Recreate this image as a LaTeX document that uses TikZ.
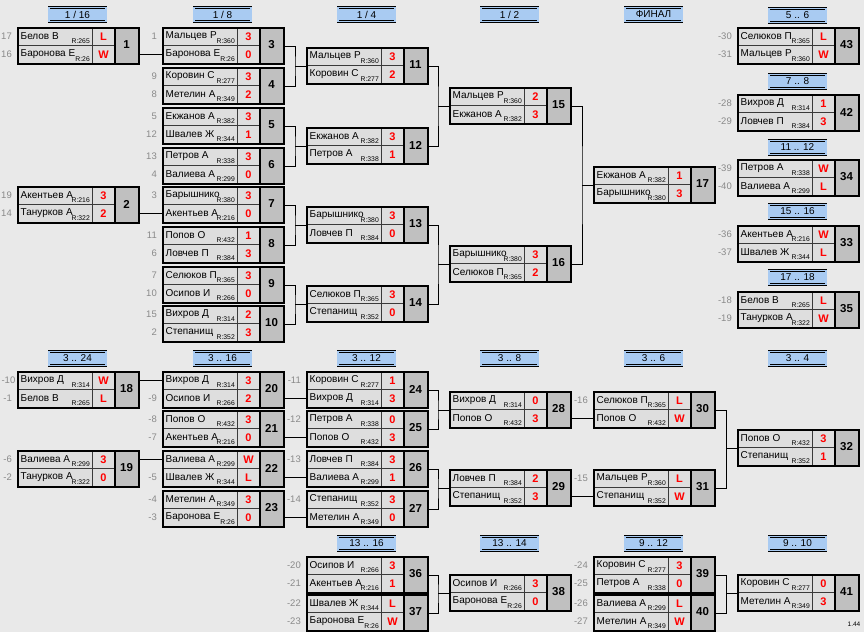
\documentclass[tikz,border=0pt]{standalone}
\usepackage{fontspec}
\setmainfont{Liberation Sans}
\usetikzlibrary{calc}
\definecolor{bgc}{HTML}{E9E9E9}
\definecolor{namefill}{HTML}{DEDEDE}
\definecolor{numfill}{HTML}{C0C0C0}
\definecolor{hdrblue}{HTML}{A9CBF2}
\definecolor{scred}{HTML}{FF0000}
\definecolor{seedgray}{HTML}{8A8A8A}
\definecolor{inlc}{HTML}{3A3A3A}
\tikzset{
 conn/.style={line width=1pt, black},
 mframe/.style={draw, line width=2pt, minimum width=121pt, minimum height=36pt, inner sep=0pt, anchor=north west},
 rowcell/.style={minimum width=98pt, minimum height=18pt, inner sep=0pt, anchor=north west},
 nm/.style={anchor=west, font=\fontsize{10}{11}\selectfont, inner sep=0pt},
 rt/.style={anchor=base east, font=\fontsize{6.8}{7}\selectfont, inner sep=0pt},
 sc/.style={font=\bfseries\fontsize{11}{12}\selectfont, text=scred, inner sep=0pt},
 num/.style={font=\bfseries\fontsize{11.5}{13}\selectfont, inner sep=0pt},
 seedt/.style={anchor=east, font=\fontsize{9.5}{10}\selectfont, text=seedgray, inner sep=0pt, xshift=-5pt},
 inl/.style={line width=1pt, inlc},
 hdr/.style={draw, double=hdrblue, double distance=1.4pt, line width=0.7pt, fill=hdrblue, minimum width=57pt, minimum height=14pt, inner sep=0pt, font=\fontsize{10}{11}\selectfont},
}
\newcommand{\mtch}[9]{%
 \fill[namefill] (#2,#3) rectangle ++(98,36);
 \fill[numfill] (#2+98,#3) rectangle ++(23,36);
 \draw[inl] (#2,#3+18) -- ++(98,0);
 \draw[inl] (#2+75,#3) -- ++(0,36);
 \draw[line width=1.5pt] (#2+98,#3) -- ++(0,36);
 \node[rowcell] (m#1a) at (#2,#3) {};
 \node[rowcell] (m#1b) at (#2,#3+18) {};
 \node[mframe] (m#1) at (#2,#3) {};
 \node[nm] at (#2+3.5,#3+9) {#4};
 \node[rt] at (#2+73,#3+16.5) {R:#5};
 \node[sc] at (#2+86.5,#3+9.5) {#6};
 \node[nm] at (#2+3.5,#3+27) {#7};
 \node[rt] at (#2+73,#3+34.5) {R:#8};
 \node[sc] at (#2+86.5,#3+27.5) {#9};
 \node[num] at (#2+109.5,#3+18) {#1};
}
\newcommand{\seedlbl}[2]{\node[seedt] at (#1.west) {#2};}
\newcommand{\hdrbox}[4]{\node[hdr] (h#1) at (#2,#3+8.5) {#4};}
\newcommand{\brk}[3]{%
 \coordinate (j#3) at ($(m#3.west)+(-11,0)$);
 \draw[conn] (m#1.east) -| (j#3) |- (m#2.east);
 \draw[conn] (j#3) -- (m#3.west);
}
\newcommand{\feed}[2]{\draw[conn] (m#1.east |- m#2.west) -- (m#2.west);}
\begin{document}
\begin{tikzpicture}[x=1pt,y=-1pt]
\fill[bgc] (0,0) rectangle (864,632);
\useasboundingbox (0,0) rectangle (864,632);
% headers
\hdrbox{1}{77.5}{6}{1 / 16}
\hdrbox{2}{222.5}{6}{1 / 8}
\hdrbox{3}{366.5}{6}{1 / 4}
\hdrbox{4}{509.5}{6}{1 / 2}
\hdrbox{5}{653.5}{6}{ФИНАЛ}
\hdrbox{6}{797.5}{7}{5 .. 6}
\hdrbox{7}{797.5}{73}{7 .. 8}
\hdrbox{8}{797.5}{139}{11 .. 12}
\hdrbox{9}{797.5}{203}{15 .. 16}
\hdrbox{10}{797.5}{269}{17 .. 18}
\hdrbox{11}{77.5}{350}{3 .. 24}
\hdrbox{12}{222.5}{350}{3 .. 16}
\hdrbox{13}{366.5}{350}{3 .. 12}
\hdrbox{14}{509.5}{350}{3 .. 8}
\hdrbox{15}{653.5}{350}{3 .. 6}
\hdrbox{16}{797.5}{350}{3 .. 4}
\hdrbox{17}{366.5}{535}{13 .. 16}
\hdrbox{18}{509.5}{535}{13 .. 14}
\hdrbox{19}{653.5}{535}{9 .. 12}
\hdrbox{20}{797.5}{535}{9 .. 10}
% matches
\mtch{1}{17}{27}{Белов В}{265}{L}{Баронова Е}{26}{W}
\mtch{2}{17}{186}{Акентьев А}{216}{3}{Танурков А}{322}{2}
\mtch{18}{17}{371}{Вихров Д}{314}{W}{Белов В}{265}{L}
\mtch{19}{17}{450}{Валиева А}{299}{3}{Танурков А}{322}{0}
\mtch{3}{162}{27}{Мальцев Р}{360}{3}{Баронова Е}{26}{0}
\mtch{4}{162}{67}{Коровин С}{277}{3}{Метелин А}{349}{2}
\mtch{5}{162}{107}{Екжанов А}{382}{3}{Швалев Ж}{344}{1}
\mtch{6}{162}{147}{Петров А}{338}{3}{Валиева А}{299}{0}
\mtch{7}{162}{186}{Барышнико}{380}{3}{Акентьев А}{216}{0}
\mtch{8}{162}{226}{Попов О}{432}{1}{Ловчев П}{384}{3}
\mtch{9}{162}{266}{Селюков П}{365}{3}{Осипов И}{266}{0}
\mtch{10}{162}{305}{Вихров Д}{314}{2}{Степанищ}{352}{3}
\mtch{20}{162}{371}{Вихров Д}{314}{3}{Осипов И}{266}{2}
\mtch{21}{162}{410}{Попов О}{432}{3}{Акентьев А}{216}{0}
\mtch{22}{162}{450}{Валиева А}{299}{W}{Швалев Ж}{344}{L}
\mtch{23}{162}{490}{Метелин А}{349}{3}{Баронова Е}{26}{0}
\mtch{11}{306}{47}{Мальцев Р}{360}{3}{Коровин С}{277}{2}
\mtch{12}{306}{127}{Екжанов А}{382}{3}{Петров А}{338}{1}
\mtch{13}{306}{206}{Барышнико}{380}{3}{Ловчев П}{384}{0}
\mtch{14}{306}{285}{Селюков П}{365}{3}{Степанищ}{352}{0}
\mtch{24}{306}{371}{Коровин С}{277}{1}{Вихров Д}{314}{3}
\mtch{25}{306}{410}{Петров А}{338}{0}{Попов О}{432}{3}
\mtch{26}{306}{450}{Ловчев П}{384}{3}{Валиева А}{299}{1}
\mtch{27}{306}{490}{Степанищ}{352}{3}{Метелин А}{349}{0}
\mtch{36}{306}{556}{Осипов И}{266}{3}{Акентьев А}{216}{1}
\mtch{37}{306}{594}{Швалев Ж}{344}{L}{Баронова Е}{26}{W}
\mtch{15}{449}{87}{Мальцев Р}{360}{2}{Екжанов А}{382}{3}
\mtch{16}{449}{245}{Барышнико}{380}{3}{Селюков П}{365}{2}
\mtch{28}{449}{391}{Вихров Д}{314}{0}{Попов О}{432}{3}
\mtch{29}{449}{469}{Ловчев П}{384}{2}{Степанищ}{352}{3}
\mtch{38}{449}{574}{Осипов И}{266}{3}{Баронова Е}{26}{0}
\mtch{17}{593}{166}{Екжанов А}{382}{1}{Барышнико}{380}{3}
\mtch{30}{593}{391}{Селюков П}{365}{L}{Попов О}{432}{W}
\mtch{31}{593}{469}{Мальцев Р}{360}{L}{Степанищ}{352}{W}
\mtch{39}{593}{556}{Коровин С}{277}{3}{Петров А}{338}{0}
\mtch{40}{593}{594}{Валиева А}{299}{L}{Метелин А}{349}{W}
\mtch{43}{737}{27}{Селюков П}{365}{L}{Мальцев Р}{360}{W}
\mtch{42}{737}{94}{Вихров Д}{314}{1}{Ловчев П}{384}{3}
\mtch{34}{737}{159}{Петров А}{338}{W}{Валиева А}{299}{L}
\mtch{33}{737}{225}{Акентьев А}{216}{W}{Швалев Ж}{344}{L}
\mtch{35}{737}{291}{Белов В}{265}{L}{Танурков А}{322}{W}
\mtch{32}{737}{429}{Попов О}{432}{3}{Степанищ}{352}{1}
\mtch{41}{737}{574}{Коровин С}{277}{0}{Метелин А}{349}{3}
% seeds
\seedlbl{m1a}{17}\seedlbl{m1b}{16}\seedlbl{m2a}{19}\seedlbl{m2b}{14}
\seedlbl{m3a}{1}\seedlbl{m4a}{9}\seedlbl{m4b}{8}\seedlbl{m5a}{5}\seedlbl{m5b}{12}
\seedlbl{m6a}{13}\seedlbl{m6b}{4}\seedlbl{m7a}{3}\seedlbl{m8a}{11}\seedlbl{m8b}{6}
\seedlbl{m9a}{7}\seedlbl{m9b}{10}\seedlbl{m10a}{15}\seedlbl{m10b}{2}
\seedlbl{m43a}{-30}\seedlbl{m43b}{-31}\seedlbl{m42a}{-28}\seedlbl{m42b}{-29}
\seedlbl{m34a}{-39}\seedlbl{m34b}{-40}\seedlbl{m33a}{-36}\seedlbl{m33b}{-37}
\seedlbl{m35a}{-18}\seedlbl{m35b}{-19}
\node[seedt, xshift=3.5pt] at (m18a.west) {-10};
\seedlbl{m18b}{-1}\seedlbl{m19a}{-6}\seedlbl{m19b}{-2}
\seedlbl{m20b}{-9}\seedlbl{m21a}{-8}\seedlbl{m21b}{-7}\seedlbl{m22b}{-5}
\seedlbl{m23a}{-4}\seedlbl{m23b}{-3}
\seedlbl{m24a}{-11}\seedlbl{m25a}{-12}\seedlbl{m26a}{-13}\seedlbl{m27a}{-14}
\seedlbl{m30a}{-16}\seedlbl{m31a}{-15}
\seedlbl{m36a}{-20}\seedlbl{m36b}{-21}\seedlbl{m37a}{-22}\seedlbl{m37b}{-23}
\seedlbl{m39a}{-24}\seedlbl{m39b}{-25}\seedlbl{m40a}{-26}\seedlbl{m40b}{-27}
% connectors
\feed{1}{3b}\feed{2}{7b}\feed{18}{20a}\feed{19}{22a}
\feed{20}{24b}\feed{21}{25b}\feed{22}{26b}\feed{23}{27b}
\feed{28}{30b}\feed{29}{31b}
\brk{3}{4}{11}\brk{5}{6}{12}\brk{7}{8}{13}\brk{9}{10}{14}
\brk{11}{12}{15}\brk{13}{14}{16}\brk{15}{16}{17}
\brk{24}{25}{28}\brk{26}{27}{29}\brk{30}{31}{32}
\brk{36}{37}{38}\brk{39}{40}{41}
\node[font=\fontsize{6.5}{7}\selectfont, inner sep=0pt] (ver) at (854,624) {1.44};
\end{tikzpicture}
\end{document}
